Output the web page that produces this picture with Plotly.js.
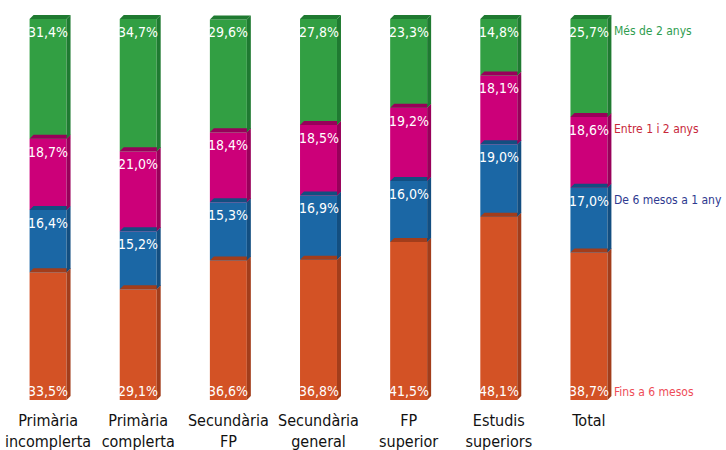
<!DOCTYPE html>
<html>
<head>
<meta charset="utf-8">
<script src="https://cdn.plot.ly/plotly-3.0.1.min.js"></script>
<style>html,body{margin:0;padding:0;background:#fff;}#chart{width:726px;height:450px;}</style>
</head>
<body>
<div id="chart"></div>
<script>
// ---- data ----
const categories = ["Primària<br>incomplerta", "Primària<br>complerta", "Secundària<br>FP", "Secundària<br>general", "FP<br>superior", "Estudis<br>superiors", "Total"];
const seriesNames = ["Fins a 6 mesos", "De 6 mesos a 1 any", "Entre 1 i 2 anys", "Més de 2 anys"];
const fins6mesos   = [33.5, 29.1, 36.6, 36.8, 41.5, 48.1, 38.7];
const de6mesos1any = [16.4, 15.2, 15.3, 16.9, 16.0, 19.0, 17.0];
const entre1i2     = [18.7, 21.0, 18.4, 18.5, 19.2, 18.1, 18.6];
const mesDe2       = [31.4, 34.7, 29.6, 27.8, 23.3, 14.8, 25.7];

// ---- styles ----
const seriesValues = [fins6mesos, de6mesos1any, entre1i2, mesDe2];
const frontColors = ["#d35225", "#1b67a5", "#cc0079", "#329f43"];
const sideColors  = ["#a23d1b", "#134e80", "#98005a", "#1f7a31"];
const legendColors = ["#ee4d58", "#2e3a8f", "#c8283a", "#2f9d4f"];
const FONT = "'DejaVu Sans Condensed', sans-serif";

const W = 726, H = 450;
const margin = {l: 3, r: 92, t: 4, b: 50, pad: 0};
const plotW = W - margin.l - margin.r, plotH = H - margin.t - margin.b;
const xRange = [-0.5, categories.length - 0.5];
const yRange = [0, 100 * plotH / (plotH - 15)];
const dxPx = (xRange[1] - xRange[0]) / plotW;
const dyPx = (yRange[1] - yRange[0]) / plotH;
const barWidth = 0.41;
const depth = 4;

const xIdx = categories.map((c, i) => i);
const fmt = v => v.toFixed(1).replace('.', ',') + '%';

const traces = [];
const shapes = [];
const annotations = [];
const base = categories.map(() => 0);

seriesValues.forEach((vals, s) => {
  traces.push({
    type: 'bar', x: xIdx, y: vals, base: base.slice(), width: barWidth,
    name: seriesNames[s], marker: {color: frontColors[s], line: {width: 0}},
    hoverinfo: 'skip', showlegend: false
  });
  vals.forEach((v, i) => {
    const y0 = base[i], y1 = base[i] + v;
    const xl = i - barWidth / 2, xr = i + barWidth / 2;
    const ox = depth * dxPx, oy = depth * dyPx;
    shapes.push({type: 'path', xref: 'x', yref: 'y', layer: 'above',
      path: `M${xr},${y0} L${xr + ox},${y0 + oy} L${xr + ox},${y1 + oy} L${xr},${y1} Z`,
      fillcolor: sideColors[s], line: {width: 0}});
    shapes.push({type: 'path', xref: 'x', yref: 'y', layer: 'above',
      path: `M${xl},${y1} L${xr},${y1} L${xr + ox},${y1 + oy} L${xl + ox},${y1 + oy} Z`,
      fillcolor: sideColors[s], line: {width: 0}});
    if (s === 0) {
      annotations.push({x: i, y: y0, xref: 'x', yref: 'y', text: fmt(v), showarrow: false,
        xanchor: 'center', yanchor: 'bottom', yshift: -1,
        font: {family: FONT, size: 14, color: '#ffffff'}});
    } else {
      annotations.push({x: i, y: y1, xref: 'x', yref: 'y', text: fmt(v), showarrow: false,
        xanchor: 'center', yanchor: 'top', yshift: -3,
        font: {family: FONT, size: 14, color: '#ffffff'}});
    }
    base[i] = y1;
  });
});

// series names next to the last bar
const last = categories.length - 1;
let cum = 0;
seriesValues.forEach((vals, s) => {
  const v = vals[last];
  const y0 = cum, y1 = cum + v;
  cum = y1;
  annotations.push({x: last, y: s === 0 ? y0 : y1, xref: 'x', yref: 'y',
    text: seriesNames[s], showarrow: false, xanchor: 'left',
    yanchor: s === 0 ? 'bottom' : 'top', xshift: 23, yshift: s === 0 ? -1 : -3,
    font: {family: FONT, size: 12, color: legendColors[s]}});
});

const layout = {
  width: W, height: H, margin: margin,
  paper_bgcolor: '#ffffff', plot_bgcolor: '#ffffff',
  barmode: 'overlay', showlegend: false,
  xaxis: {range: xRange, tickvals: xIdx, ticktext: categories, showgrid: false,
    zeroline: false, showline: false, ticks: '', fixedrange: true, ticklabelstandoff: 9,
    tickfont: {family: FONT, size: 16, color: '#111111'}},
  yaxis: {range: yRange, showgrid: false, zeroline: false, showline: false,
    showticklabels: false, ticks: '', fixedrange: true},
  shapes: shapes, annotations: annotations
};

Plotly.newPlot('chart', traces, layout, {staticPlot: true, displayModeBar: false});
</script>
</body>
</html>
